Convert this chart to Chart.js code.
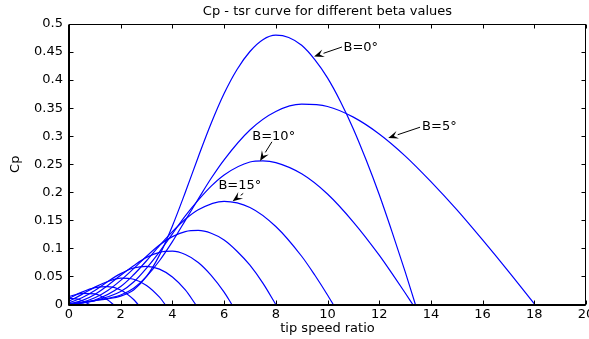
<!DOCTYPE html>
<html lang="en">
<head>
    <meta charset="UTF-8">
    <title>Cp - tsr curve</title>
    <script src="https://cdn.jsdelivr.net/npm/chart.js"></script>
    <style>
        html, body { margin: 0; padding: 0; background: #fff; }
        #wrap { width: 589px; height: 339px; }
    </style>
</head>
<body>
<div id="wrap"><canvas id="cpChart" width="589" height="339"></canvas></div>
<script>
// beta values (deg) of the curves
const betas = [0, 5, 10, 15, 20, 25, 30, 35, 40, 45, 50];

// values, one pair of arrays per beta
const tsr_b0 = [0, 1, 1.5, 2, 2.5, 3, 3.5, 4, 4.5, 5, 5.5, 6, 6.5, 7, 7.5, 8, 8.5, 9, 9.5, 10, 10.5, 11, 11.5, 12, 12.5, 13, 13.4];
const cp_b0  = [0, 0.007, 0.010, 0.015, 0.026, 0.050, 0.088, 0.140, 0.200, 0.263, 0.323, 0.376, 0.419, 0.451, 0.472, 0.480, 0.476, 0.462, 0.437, 0.404, 0.362, 0.313, 0.257, 0.196, 0.129, 0.059, 0];

const tsr_b5 = [0, 1, 2, 2.5, 3, 3.5, 4, 4.5, 5, 5.5, 6, 7, 8, 9, 10, 11, 12, 13, 14, 15, 16, 17, 18.02];
const cp_b5  = [0, 0.007, 0.017, 0.029, 0.050, 0.078, 0.112, 0.150, 0.188, 0.225, 0.258, 0.311, 0.344, 0.357, 0.353, 0.334, 0.304, 0.265, 0.219, 0.169, 0.115, 0.059, 0];

const tsr_b10 = [0, 1, 2, 2.5, 3, 3.5, 4, 4.5, 5, 5.5, 6, 7, 7.5, 8, 9, 10, 11, 12, 12.5, 13, 13.3];
const cp_b10  = [0, 0.007, 0.023, 0.040, 0.065, 0.094, 0.126, 0.158, 0.186, 0.211, 0.231, 0.254, 0.256, 0.253, 0.233, 0.197, 0.147, 0.088, 0.055, 0.021, 0];

const tsr_b15 = [0, 1, 2, 2.5, 3, 3.5, 4, 4.5, 5, 6, 7, 8, 9, 9.5, 10, 10.22];
const cp_b15  = [0, 0.008, 0.032, 0.053, 0.078, 0.105, 0.130, 0.152, 0.169, 0.184, 0.173, 0.139, 0.086, 0.053, 0.017, 0];

const tsr_b20 = [0, 0.5, 1, 1.5, 2, 2.5, 3, 3.5, 4, 4.5, 5, 5.5, 6, 6.5, 7, 7.5, 8];
const cp_b20  = [0, 0.004, 0.012, 0.025, 0.043, 0.064, 0.086, 0.106, 0.121, 0.130, 0.132, 0.127, 0.115, 0.095, 0.070, 0.038, 0];

const tsr_b25 = [0, 0.5, 1, 1.5, 2, 2.5, 3, 3.5, 4, 4.5, 5, 5.5, 6, 6.3];
const cp_b25  = [0.001, 0.007, 0.018, 0.034, 0.052, 0.069, 0.084, 0.093, 0.095, 0.089, 0.075, 0.052, 0.022, 0];

const tsr_b30 = [0, 0.5, 1, 1.5, 2, 2.5, 3, 3.5, 4, 4.5, 4.9];
const cp_b30  = [0.003, 0.012, 0.025, 0.041, 0.055, 0.065, 0.068, 0.063, 0.049, 0.026, 0];

const tsr_b35 = [0, 0.5, 1, 1.5, 2, 2.5, 3, 3.5, 3.72];
const cp_b35  = [0.006, 0.018, 0.031, 0.041, 0.047, 0.045, 0.034, 0.013, 0];

const tsr_b40 = [0, 0.5, 1, 1.5, 2, 2.5, 2.67];
const cp_b40  = [0.011, 0.022, 0.030, 0.032, 0.026, 0.009, 0];

const tsr_b45 = [0, 0.5, 1, 1.5, 1.72];
const cp_b45  = [0.014, 0.020, 0.019, 0.008, 0];

const tsr_b50 = [0, 0.4, 0.8];
const cp_b50  = [0.011, 0.009, 0];

const xTicks = [0, 2, 4, 6, 8, 10, 12, 14, 16, 18, 20];
const yTicks = [0, 0.05, 0.1, 0.15, 0.2, 0.25, 0.3, 0.35, 0.4, 0.45, 0.5];

const titleText = 'Cp - tsr curve for different beta values';

const curves = [
    [tsr_b0, cp_b0], [tsr_b5, cp_b5], [tsr_b10, cp_b10], [tsr_b15, cp_b15],
    [tsr_b20, cp_b20], [tsr_b25, cp_b25], [tsr_b30, cp_b30], [tsr_b35, cp_b35],
    [tsr_b40, cp_b40], [tsr_b45, cp_b45], [tsr_b50, cp_b50]
];

// arrow notes: text, text anchor (left, middle), arrow tail, arrow tip (data units)
const notes = [
    {text: 'B=0\u00B0',  at: [10.62, 0.457], from: [10.56, 0.459], to: [9.48, 0.442]},
    {text: 'B=5\u00B0',  at: [13.66, 0.317], from: [13.58, 0.316], to: [12.35, 0.297]},
    {text: 'B=10\u00B0', at: [7.09, 0.300],  from: [7.85, 0.290],  to: [7.39, 0.256]},
    {text: 'B=15\u00B0', at: [5.78, 0.212],  from: [6.74, 0.198],  to: [6.33, 0.184]}
];

const FONT = 'DejaVu Sans';

// matlab style box with inward ticks, title over the axes, and the arrow notes
const boxPlugin = {
    id: 'box',
    afterDatasetsDraw(chart) {
        const {ctx, chartArea: a, scales: {x, y}} = chart;
        ctx.save();
        ctx.strokeStyle = '#000';
        ctx.lineWidth = 1;
        const L = Math.round(a.left) + 0.5, R = Math.round(a.right) - 0.5;
        const T = Math.round(a.top) + 0.5, B = Math.round(a.bottom) - 0.5;
        ctx.strokeRect(L, T, R - L, B - T);
        // left and bottom axes a bit heavier, like the matlab export
        ctx.beginPath();
        ctx.moveTo(L - 1, T); ctx.lineTo(L - 1, B + 1); ctx.lineTo(R, B + 1);
        ctx.stroke();
        ctx.beginPath();
        xTicks.forEach(v => {
            const px = Math.round(x.getPixelForValue(v)) + 0.5;
            ctx.moveTo(px, B); ctx.lineTo(px, B - 4);
            ctx.moveTo(px, T); ctx.lineTo(px, T + 4);
        });
        yTicks.forEach(v => {
            const py = Math.round(y.getPixelForValue(v)) + 0.5;
            ctx.moveTo(L, py); ctx.lineTo(L + 4, py);
            ctx.moveTo(R, py); ctx.lineTo(R - 4, py);
        });
        ctx.stroke();

        ctx.fillStyle = '#000';
        ctx.font = '13px "' + FONT + '"';
        ctx.textAlign = 'center';
        ctx.textBaseline = 'middle';
        ctx.fillText(titleText, (a.left + a.right) / 2, 11.5);

        // notes
        ctx.textAlign = 'left';
        notes.forEach(n => {
            const x0 = x.getPixelForValue(n.from[0]), y0 = y.getPixelForValue(n.from[1]);
            const x1 = x.getPixelForValue(n.to[0]),   y1 = y.getPixelForValue(n.to[1]);
            const ang = Math.atan2(y1 - y0, x1 - x0);
            const len = 10, hw = 4;
            const bx = x1 - len * Math.cos(ang), by = y1 - len * Math.sin(ang);
            ctx.beginPath();
            ctx.moveTo(x0, y0); ctx.lineTo(bx, by);
            ctx.stroke();
            ctx.beginPath();
            ctx.moveTo(x1, y1);
            ctx.lineTo(bx + hw * Math.sin(ang), by - hw * Math.cos(ang));
            ctx.lineTo(x1 - 0.6 * len * Math.cos(ang), y1 - 0.6 * len * Math.sin(ang));
            ctx.lineTo(bx - hw * Math.sin(ang), by + hw * Math.cos(ang));
            ctx.closePath();
            ctx.fill();
            ctx.fillText(n.text, x.getPixelForValue(n.at[0]), y.getPixelForValue(n.at[1]));
        });
        ctx.restore();
    }
};

const datasets = curves.map((c, i) => ({
    label: 'B=' + betas[i],
    data: c[0].map((t, k) => ({x: t, y: c[1][k]})),
    borderColor: '#0000ff',
    borderWidth: 1.2,
    pointRadius: 0,
    fill: false,
    cubicInterpolationMode: 'monotone'
}));

new Chart(document.getElementById('cpChart'), {
    type: 'line',
    data: {datasets: datasets},
    plugins: [boxPlugin],
    options: {
        responsive: false,
        animation: false,
        devicePixelRatio: 1,
        layout: {padding: {left: 0, right: 3, top: 24, bottom: 0}},
        plugins: {
            legend: {display: false},
            tooltip: {enabled: false},
            title: {display: false}
        },
        scales: {
            x: {
                type: 'linear', min: 0, max: 20,
                afterBuildTicks: s => { s.ticks = xTicks.map(v => ({value: v})); },
                afterFit: s => { s.height = 34.5; s.paddingLeft = 0; s.paddingRight = 0; },
                grid: {display: false, drawTicks: false},
                border: {display: false},
                ticks: {color: '#000', padding: 2, maxRotation: 0, autoSkip: false,
                        font: {family: FONT, size: 13}},
                title: {display: true, text: 'tip speed ratio', color: '#000',
                        font: {family: FONT, size: 13}, padding: {top: 0, bottom: 3}}
            },
            y: {
                min: 0, max: 0.5,
                afterBuildTicks: s => { s.ticks = yTicks.map(v => ({value: v})); },
                afterFit: s => { s.width = 69; s.paddingTop = 0; s.paddingBottom = 0; },
                grid: {display: false, drawTicks: false},
                border: {display: false},
                ticks: {color: '#000', padding: 6, autoSkip: false,
                        font: {family: FONT, size: 13},
                        callback: v => String(+v.toFixed(2))},
                title: {display: true, text: 'Cp', color: '#000',
                        font: {family: FONT, size: 13}, padding: {top: 8, bottom: 0}}
            }
        }
    }
});
</script>
</body>
</html>
